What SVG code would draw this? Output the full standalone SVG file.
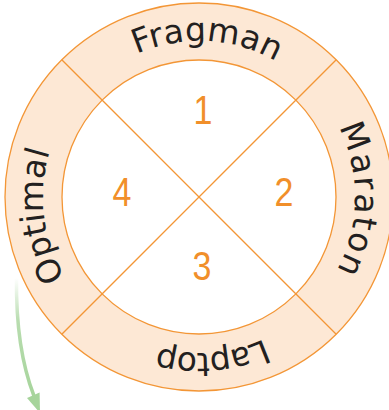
<svg xmlns="http://www.w3.org/2000/svg" width="389" height="410" viewBox="0 0 389 410">
  <style>
    .ring { stroke: #f39636; stroke-width: 1.3; }
    .band { fill: #fde8d5; }
    .hole { fill: #ffffff; }
    .div { stroke: #f39636; stroke-width: 1.3; fill: none; }
    .num { font-family: "Liberation Sans", Arial, sans-serif; font-size: 40px; fill: #f18f2a; text-anchor: middle; }
    .lab { font-family: "DejaVu Sans", "Liberation Sans", sans-serif; font-size: 33px; fill: #231f20; text-anchor: middle; }
  </style>
  <defs>
    <path id="tp" d="M 88.69 307.31 A 156 156 0 0 1 309.31 86.69 A 156 156 0 0 1 88.69 307.31"/>
    <linearGradient id="gArrow" gradientUnits="userSpaceOnUse" x1="0" y1="278" x2="0" y2="400">
      <stop offset="0" stop-color="#a6d49b" stop-opacity="0"/>
      <stop offset="0.35" stop-color="#a6d49b" stop-opacity="0.8"/>
      <stop offset="1" stop-color="#a6d49b" stop-opacity="1"/>
    </linearGradient>
  </defs>

  <g id="ring">
    <circle class="ring band" cx="199" cy="197" r="194"/>
    <circle class="ring hole" cx="199" cy="197" r="137"/>
    <line class="div" x1="61.8" y1="59.8" x2="336.2" y2="334.2"/>
    <line class="div" x1="336.2" y1="59.8" x2="61.8" y2="334.2"/>
  </g>

  <g id="node-1">
    <text class="num" transform="translate(203,124) scale(0.85,1)">1</text>
    <text class="lab"><textPath href="#tp" startOffset="375.5">Fragman</textPath></text>
  </g>
  <g id="node-2">
    <text class="num" transform="translate(284,206) scale(0.85,1)">2</text>
    <text class="lab" letter-spacing="2"><textPath href="#tp" startOffset="615.3">Maraton</textPath></text>
  </g>
  <g id="node-3">
    <text class="num" transform="translate(202,280) scale(0.85,1)">3</text>
    <text class="lab" letter-spacing="-1"><textPath href="#tp" startOffset="844">Laptop</textPath></text>
  </g>
  <g id="node-4">
    <text class="num" transform="translate(122,206) scale(0.85,1)">4</text>
    <text class="lab"><textPath href="#tp" startOffset="103.5">Optimal</textPath></text>
  </g>

  <g id="connectors">
    <path d="M 16.5 278 C 16 320, 20 360, 34 396" fill="none" stroke="url(#gArrow)" stroke-width="3.5" stroke-linecap="round"/>
    <polygon points="27,398 39.6,392.5 40,413" fill="#a6d49b"/>
  </g>
</svg>
